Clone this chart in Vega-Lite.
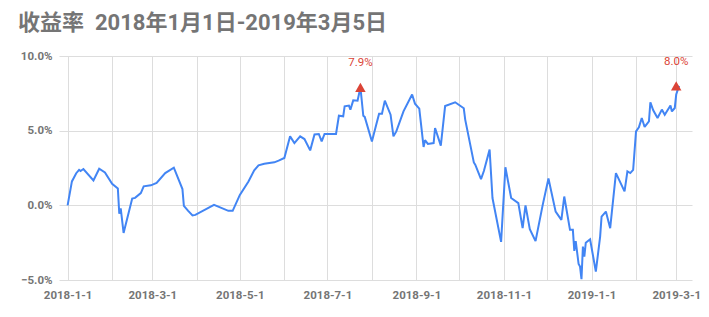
{
  "$schema": "https://vega.github.io/schema/vega-lite/v6.json",
  "width": 633,
  "height": 224,
  "autosize": {"type": "none"},
  "padding": {"left": 59, "top": 56, "right": 17, "bottom": 37},
  "background": "white",
  "title": {
    "text": "收益率\u00a0\u00a02018年1月1日-2019年3月5日",
    "anchor": "start",
    "frame": "group",
    "dx": -41,
    "offset": 15,
    "font": "Roboto, Noto Sans CJK SC",
    "fontSize": 22,
    "fontWeight": "bold",
    "color": "#757575"
  },
  "datasets": {
    "main": [
      {"date": "2018/01/01", "value": 0.0},
      {"date": "2018/01/04", "value": 1.6},
      {"date": "2018/01/07", "value": 2.15},
      {"date": "2018/01/09", "value": 2.38},
      {"date": "2018/01/10", "value": 2.3},
      {"date": "2018/01/12", "value": 2.43},
      {"date": "2018/01/19", "value": 1.67},
      {"date": "2018/01/23", "value": 2.45},
      {"date": "2018/01/27", "value": 2.2},
      {"date": "2018/02/01", "value": 1.44},
      {"date": "2018/02/05", "value": 1.13},
      {"date": "2018/02/06", "value": -0.56},
      {"date": "2018/02/07", "value": -0.2},
      {"date": "2018/02/09", "value": -1.85},
      {"date": "2018/02/15", "value": 0.45},
      {"date": "2018/02/17", "value": 0.5},
      {"date": "2018/02/21", "value": 0.82},
      {"date": "2018/02/23", "value": 1.27},
      {"date": "2018/02/28", "value": 1.34},
      {"date": "2018/03/04", "value": 1.5},
      {"date": "2018/03/10", "value": 2.16},
      {"date": "2018/03/16", "value": 2.52},
      {"date": "2018/03/22", "value": 1.09},
      {"date": "2018/03/23", "value": -0.03},
      {"date": "2018/03/26", "value": -0.37},
      {"date": "2018/03/29", "value": -0.68},
      {"date": "2018/03/31", "value": -0.64},
      {"date": "2018/04/13", "value": 0.03},
      {"date": "2018/04/23", "value": -0.37},
      {"date": "2018/04/26", "value": -0.37},
      {"date": "2018/05/01", "value": 0.7},
      {"date": "2018/05/07", "value": 1.6},
      {"date": "2018/05/11", "value": 2.34},
      {"date": "2018/05/14", "value": 2.68},
      {"date": "2018/05/18", "value": 2.79},
      {"date": "2018/05/25", "value": 2.88},
      {"date": "2018/05/28", "value": 2.99},
      {"date": "2018/06/01", "value": 3.17},
      {"date": "2018/06/05", "value": 4.62},
      {"date": "2018/06/08", "value": 4.17},
      {"date": "2018/06/12", "value": 4.62},
      {"date": "2018/06/15", "value": 4.44},
      {"date": "2018/06/19", "value": 3.68},
      {"date": "2018/06/22", "value": 4.75},
      {"date": "2018/06/25", "value": 4.78},
      {"date": "2018/06/27", "value": 4.28},
      {"date": "2018/06/29", "value": 4.78},
      {"date": "2018/07/07", "value": 4.78},
      {"date": "2018/07/09", "value": 6.0},
      {"date": "2018/07/12", "value": 5.96},
      {"date": "2018/07/13", "value": 6.63},
      {"date": "2018/07/16", "value": 6.68},
      {"date": "2018/07/17", "value": 6.41},
      {"date": "2018/07/19", "value": 7.03},
      {"date": "2018/07/22", "value": 7.01},
      {"date": "2018/07/24", "value": 7.9},
      {"date": "2018/07/26", "value": 6.0},
      {"date": "2018/07/27", "value": 5.92},
      {"date": "2018/08/01", "value": 4.28},
      {"date": "2018/08/04", "value": 5.4},
      {"date": "2018/08/06", "value": 6.14},
      {"date": "2018/08/08", "value": 6.14},
      {"date": "2018/08/10", "value": 7.01},
      {"date": "2018/08/14", "value": 6.07},
      {"date": "2018/08/16", "value": 4.62},
      {"date": "2018/08/18", "value": 4.95},
      {"date": "2018/08/23", "value": 6.29},
      {"date": "2018/08/29", "value": 7.42},
      {"date": "2018/08/31", "value": 6.81},
      {"date": "2018/09/03", "value": 6.48},
      {"date": "2018/09/04", "value": 5.62},
      {"date": "2018/09/06", "value": 3.91},
      {"date": "2018/09/07", "value": 4.36},
      {"date": "2018/09/09", "value": 4.11},
      {"date": "2018/09/13", "value": 4.17},
      {"date": "2018/09/14", "value": 5.18},
      {"date": "2018/09/18", "value": 4.0},
      {"date": "2018/09/21", "value": 6.65},
      {"date": "2018/09/28", "value": 6.9},
      {"date": "2018/10/04", "value": 6.5},
      {"date": "2018/10/05", "value": 5.74},
      {"date": "2018/10/11", "value": 2.87},
      {"date": "2018/10/12", "value": 2.72},
      {"date": "2018/10/16", "value": 1.76},
      {"date": "2018/10/18", "value": 2.3},
      {"date": "2018/10/22", "value": 3.73},
      {"date": "2018/10/24", "value": 0.49},
      {"date": "2018/10/30", "value": -2.45},
      {"date": "2018/11/02", "value": 2.55},
      {"date": "2018/11/06", "value": 0.49},
      {"date": "2018/11/11", "value": 0.15},
      {"date": "2018/11/14", "value": -1.53},
      {"date": "2018/11/16", "value": 0.0},
      {"date": "2018/11/19", "value": -1.6},
      {"date": "2018/11/23", "value": -2.4},
      {"date": "2018/11/28", "value": 0.03},
      {"date": "2018/12/02", "value": 1.8},
      {"date": "2018/12/07", "value": -0.42},
      {"date": "2018/12/11", "value": -0.97},
      {"date": "2018/12/13", "value": 0.59},
      {"date": "2018/12/17", "value": -1.64},
      {"date": "2018/12/19", "value": -1.64},
      {"date": "2018/12/20", "value": -3.05},
      {"date": "2018/12/21", "value": -2.4},
      {"date": "2018/12/23", "value": -3.93},
      {"date": "2018/12/24", "value": -4.1},
      {"date": "2018/12/25", "value": -4.95},
      {"date": "2018/12/26", "value": -2.76},
      {"date": "2018/12/27", "value": -3.43},
      {"date": "2018/12/28", "value": -2.5},
      {"date": "2018/12/31", "value": -2.27},
      {"date": "2019/01/04", "value": -4.44},
      {"date": "2019/01/07", "value": -2.09},
      {"date": "2019/01/08", "value": -0.75},
      {"date": "2019/01/11", "value": -0.42},
      {"date": "2019/01/14", "value": -1.53},
      {"date": "2019/01/18", "value": 2.16},
      {"date": "2019/01/24", "value": 0.93},
      {"date": "2019/01/26", "value": 2.27},
      {"date": "2019/01/28", "value": 2.16},
      {"date": "2019/01/30", "value": 2.38},
      {"date": "2019/02/01", "value": 4.95},
      {"date": "2019/02/03", "value": 5.22},
      {"date": "2019/02/05", "value": 5.85},
      {"date": "2019/02/07", "value": 5.25},
      {"date": "2019/02/10", "value": 5.62},
      {"date": "2019/02/11", "value": 6.9},
      {"date": "2019/02/13", "value": 6.36},
      {"date": "2019/02/16", "value": 5.85},
      {"date": "2019/02/19", "value": 6.41},
      {"date": "2019/02/21", "value": 6.07},
      {"date": "2019/02/25", "value": 6.68},
      {"date": "2019/02/26", "value": 6.29},
      {"date": "2019/02/28", "value": 6.52},
      {"date": "2019/03/01", "value": 7.42},
      {"date": "2019/03/03", "value": 8.0}
    ],
    "marks": [
      {"date": "2018/07/24", "value": 7.9, "label": "7.9%"},
      {"date": "2019/03/01", "value": 8.0, "label": "8.0%"}
    ]
  },
  "encoding": {
    "x": {
      "field": "date",
      "type": "temporal",
      "title": null,
      "scale": {"domain": ["2017/12/26", "2019/03/12"]},
      "axis": {
        "tickCount": {"interval": "month", "step": 1},
        "labelExpr": "month(datum.value) % 2 == 0 ? timeFormat(datum.value, '%Y-%-m-%-d') : ''",
        "labelOverlap": false,
        "grid": true,
        "domain": false,
        "ticks": false,
        "labelPadding": 9
      }
    },
    "y": {
      "field": "value",
      "type": "quantitative",
      "title": null,
      "scale": {"domain": [-5, 10], "nice": false},
      "axis": {
        "values": [-5, 0, 5, 10],
        "labelExpr": "format(datum.value, '.1f') + '%'",
        "grid": true,
        "domain": false,
        "ticks": false,
        "labelPadding": 7
      }
    }
  },
  "layer": [
    {
      "mark": {"type": "rule", "color": "#6e6e6e", "strokeWidth": 1.5},
      "encoding": {"y": {"datum": 0}, "x": {"value": 0}, "x2": {"value": 633}}
    },
    {
      "data": {"name": "main"},
      "mark": {"type": "line", "color": "#4285F4", "strokeWidth": 2, "strokeJoin": "miter", "strokeMiterLimit": 2}
    },
    {
      "data": {"name": "marks"},
      "mark": {"type": "point", "shape": "triangle-up", "filled": true, "color": "#DB4437", "opacity": 1, "size": 110}
    },
    {
      "data": {"name": "marks"},
      "mark": {"type": "text", "color": "#DB4437", "dy": -24, "fontSize": 11.5, "font": "Roboto"},
      "encoding": {"text": {"field": "label"}}
    }
  ],
  "config": {
    "view": {"stroke": null},
    "axis": {
      "gridColor": "#dddddd",
      "gridWidth": 1,
      "labelColor": "#757575",
      "labelFont": "Roboto",
      "labelFontWeight": "bold",
      "labelFontSize": 11.5
    }
  }
}
